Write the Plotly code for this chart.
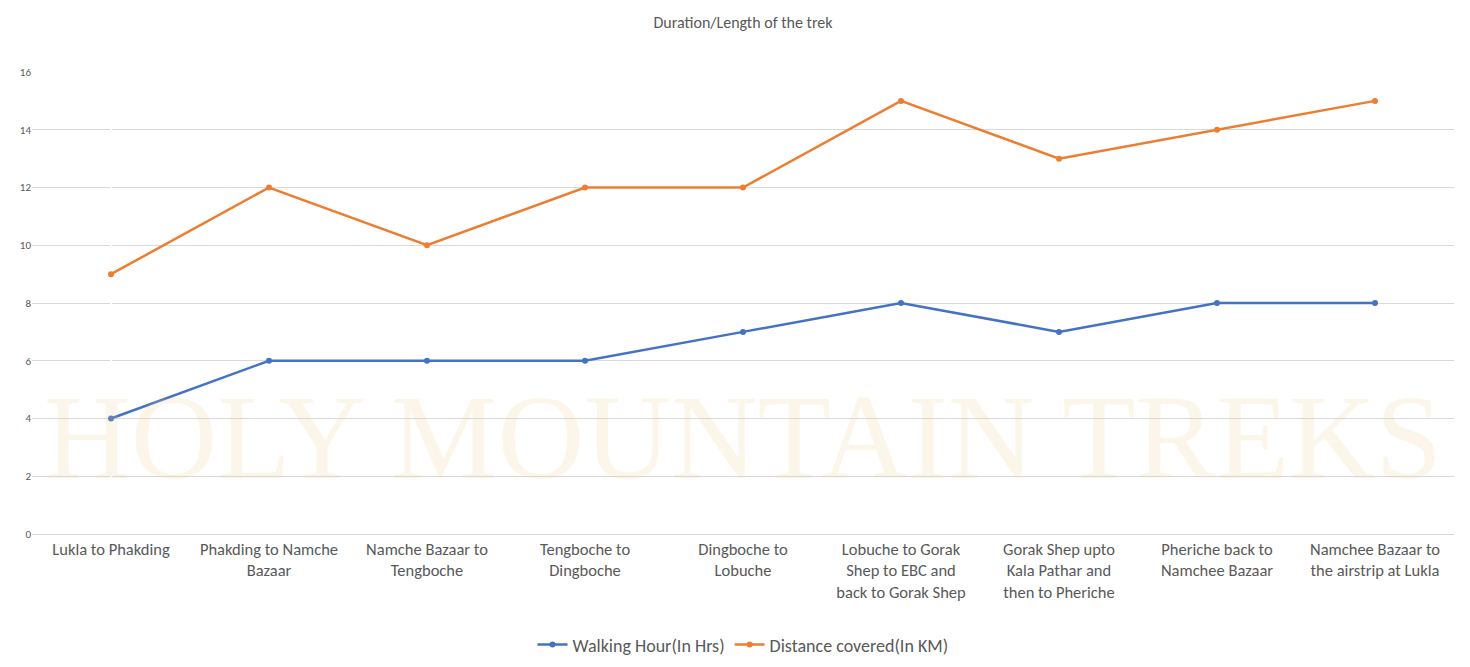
import plotly.graph_objects as go

categories = ["Lukla to Phakding", "Phakding to Namche<br>Bazaar", "Namche Bazaar to<br>Tengboche",
              "Tengboche to<br>Dingboche", "Dingboche to<br>Lobuche", "Lobuche to Gorak<br>Shep to EBC and<br>back to Gorak Shep",
              "Gorak Shep upto<br>Kala Pathar and<br>then to Pheriche", "Pheriche back to<br>Namchee Bazaar",
              "Namchee Bazaar to<br>the airstrip at Lukla"]
walking = [4, 6, 6, 6, 7, 8, 7, 8, 8]
distance = [9, 12, 10, 12, 12, 15, 13, 14, 15]

x = list(range(len(categories)))
fig = go.Figure()
fig.add_trace(go.Scatter(x=x, y=walking, mode="lines+markers", name="Walking Hour(In Hrs)",
                         line=dict(color="#4472C4", width=2.5), marker=dict(size=6, color="#4472C4")))
fig.add_trace(go.Scatter(x=x, y=distance, mode="lines+markers", name="Distance covered(In KM)",
                         line=dict(color="#ED7D31", width=2.5), marker=dict(size=6, color="#ED7D31")))
fig.add_annotation(text="HOLY MOUNTAIN TREKS", xref="paper", yref="paper", x=0.5, y=0.06,
                   showarrow=False, font=dict(family="Liberation Serif", size=120, color="rgba(240,200,140,0.18)"))
fig.update_layout(
    width=1470, height=667, paper_bgcolor="white", plot_bgcolor="white",
    margin=dict(l=24, r=24, t=64, b=132),
    title=dict(text="Duration/Length of the trek", x=0.5, y=0.979, xanchor="center", yanchor="middle",
               font=dict(family="Calibri, Liberation Sans, sans-serif", size=16, color="#595959")),
    font=dict(family="Calibri, Liberation Sans, sans-serif", color="#595959"),
    xaxis=dict(tickvals=x, ticktext=categories, range=[-0.5, 8.5], showgrid=False,
               tickfont=dict(size=16.5, color="#595959"), showline=True, linecolor="#d9d9d9", ticks=""),
    yaxis=dict(range=[0, 16], dtick=2, gridcolor="#d9d9d9", zeroline=False,
               tickfont=dict(size=11, color="#595959"), ticks=""),
    legend=dict(orientation="h", x=0.5, xanchor="center", y=-0.2, yanchor="top",
                font=dict(size=18, color="#595959")),
)
fig.write_html("out.html")
